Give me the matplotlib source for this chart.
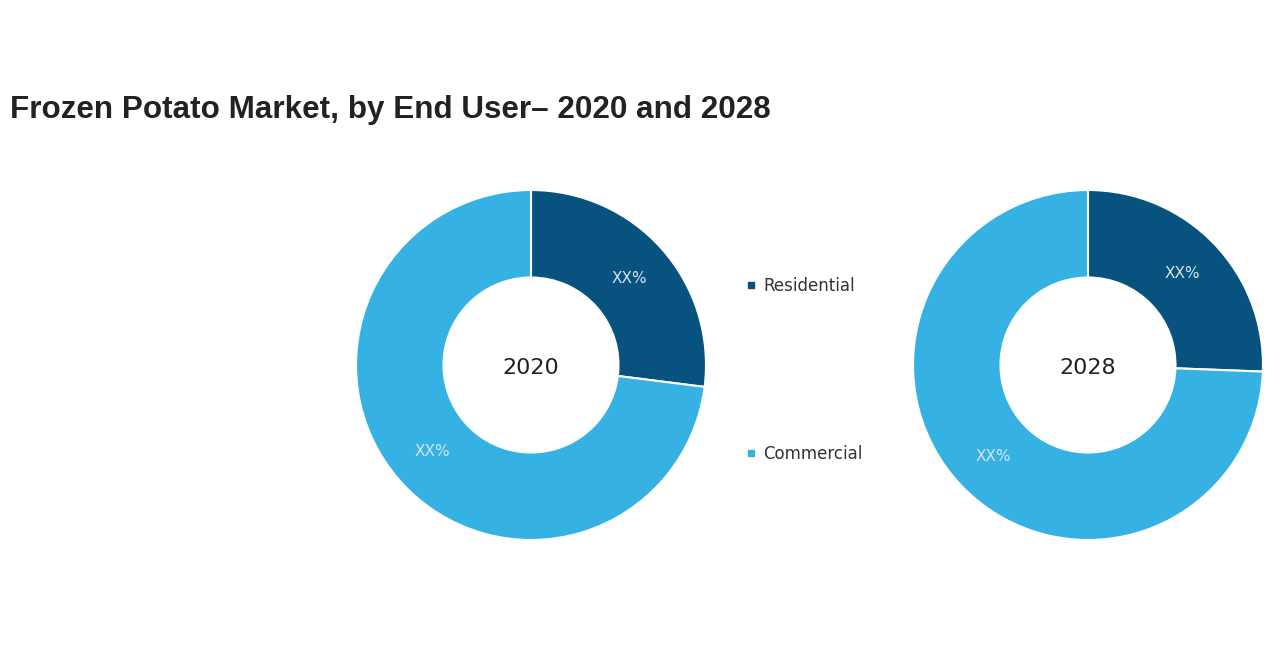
import matplotlib
matplotlib.use("Agg")
import matplotlib.pyplot as plt
from matplotlib.lines import Line2D

# data
years = ['2020', '2028']
segments = ['Residential', 'Commercial']
share_2020 = [27, 73]
share_2028 = [25.6, 74.4]
colors = ['#08527f', '#35b2e3']

fig = plt.figure(figsize=(12.8, 6.7), dpi=100)
fig.patch.set_facecolor('white')

fig.text(10 / 1280, 1 - 110 / 670, 'Frozen Potato Market, by End User\u2013 2020 and 2028',
         fontsize=22.6, fontweight='bold', family='Liberation Sans', color='#222222',
         ha='left', va='center')

# one axes per donut, placed by pixel centre
centres = [(531, 365), (1088, 365)]
radius_px = 175
for year, shares, (cx, cy) in zip(years, [share_2020, share_2028], centres):
    ax = fig.add_axes([(cx - radius_px) / 1280, 1 - (cy + radius_px) / 670,
                       2 * radius_px / 1280, 2 * radius_px / 670])
    wedges, texts, autotexts = ax.pie(shares, colors=colors, startangle=90, counterclock=False,
                                      radius=1, autopct=lambda p: 'XX%', pctdistance=0.75,
                                      wedgeprops=dict(width=0.5, edgecolor='white', linewidth=1.5))
    for t in autotexts:
        t.set_color('#d5e6f0')
        t.set_fontsize(11)
    ax.text(0, -0.02, year, ha='center', va='center', fontsize=16, color='#222222')
    ax.set_xlim(-1, 1)
    ax.set_ylim(-1, 1)
    ax.set_aspect('equal')
    ax.axis('off')

handles = [Line2D([], [], linestyle='none', marker='s', markersize=4.5, color=c) for c in colors]
fig.legend(handles, segments, loc='upper left', bbox_to_anchor=(746 / 1280, 1 - 277 / 670),
           frameon=False, handlelength=0.6, handletextpad=0.45,
           labelspacing=9.0, fontsize=12, borderpad=0, borderaxespad=0,
           labelcolor='#333333')

fig.savefig('out.png', dpi=100, facecolor='white')
